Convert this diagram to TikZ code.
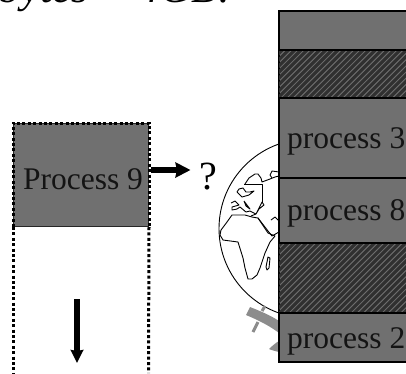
\documentclass[tikz,border=0pt]{standalone}
\usepackage{fontspec}
\setmainfont{Liberation Serif}
\usetikzlibrary{arrows.meta}
\definecolor{procgray}{HTML}{707070}
\definecolor{hatchdark}{HTML}{303030}
\definecolor{dishgray}{HTML}{8C8C8C}
\tikzset{
  px/.style={x=1pt,y=-1pt},
  seg/.style={draw=black,line width=1.3pt,fill=procgray},
  bigtext/.style={font=\fontsize{31.5}{36}\selectfont,inner sep=0pt,text=black!92},
  cont/.style={draw=black,line width=0.9pt,line join=round},
  fatarrow/.style={line width=5.2pt,-{Stealth[length=15pt,width=15pt,inset=1.5pt]}},
  dotline/.style={draw=black,line width=3pt,dash pattern=on 3pt off 2.4pt},
  dish/.style={fill=dishgray,draw=none}
}
\begin{document}
\begin{tikzpicture}[px]
\useasboundingbox (0,0) rectangle (406,373);
\clip (0,0) rectangle (406,373);
% title, cut by the top edge
\node[anchor=base east,inner sep=0pt,font=\fontsize{43}{48}\selectfont\itshape] (title) at (232,2.5) {bytes > 4GB!};
% globe
\draw[line width=0.9pt] (308.5,228.5) circle (89.5);
% Europe
\draw[cont] (245,184) -- (249,178) -- (255,174) -- (258,174) -- (261,178) -- (262,182) -- (270,179) -- (275,177) -- (279,176);
\draw[cont] (279,172) -- (272,171) -- (270,175) -- (272,178);
\draw[cont] (244,184) -- (262,184) -- (262,203);
\draw[cont] (237,192) -- (239,189) -- (243,188) -- (246,192) -- (250,192) -- (254,191) -- (249,195) -- (242,197) -- (237,192);
\draw[cont] (231,203) -- (235,201) -- (239,205) -- (232,207) -- (232,210) -- (237,209) -- (240,207) -- (246,212) -- (250,211) -- (256,214) -- (262,202) -- (264,205) -- (259,209) -- (256,214) -- (251,216);
\draw[cont] (244,201) -- (247,205) -- (250,209) -- (246,206) -- (244,201);
% Africa and Arabia
\draw[cont] (220,235) -- (223,240) -- (238,242) -- (243,258) -- (245,268) -- (248,279) -- (252,279) -- (257,275) -- (260,268) -- (265,253) -- (270,242) -- (275,236) -- (268,233) -- (258,218) -- (252,217) -- (245,215) -- (232,215) -- (227,222) -- (221,230) -- (220,235);
\draw[cont] (258,218) -- (268,231) -- (272,236) -- (279,232);
\draw[cont] (271,220) -- (275,217) -- (279,221);
\draw[cont] (268,257) -- (270,258) -- (269,268) -- (267,270) -- (266,267) -- cycle;
% satellite dish
\path[dish] (250,307) -- (246,315) .. controls (258,320) and (270,326) .. (279,333) -- (279,321) .. controls (270,315) and (260,311) .. (250,307) -- cycle;
\draw[dishgray,line width=3pt] (262,311) -- (265,306);
\draw[dishgray,line width=3pt] (258,322) -- (253,332);
\path[dish] (269,349) .. controls (273,345) and (277,342) .. (279,341) -- (279,352) .. controls (275,351) and (271,350) .. (269,349) -- cycle;
% memory column
\path[seg] (279,11) rectangle (408,50);
\path[seg] (279,50) rectangle (408,98);
\path[seg] (279,98) rectangle (408,178);
\path[seg] (279,178) rectangle (408,243);
\path[seg] (279,243) rectangle (408,313);
\path[seg] (279,313) rectangle (408,362);
\begin{scope}
\clip (279,50) rectangle (408,98) (279,243) rectangle (408,313);
\foreach \k in {0,...,68}{
  \draw[hatchdark,line width=3.2pt] ({\k*6.2},320) -- ++(330,-330);
}
\end{scope}
\draw[black,line width=1.6pt] (279,50) -- (406,50);
\draw[black,line width=1.6pt] (279,98) -- (406,98);
\draw[black,line width=1.3pt] (279,178) -- (406,178);
\draw[black,line width=1.6pt] (279,243) -- (406,243);
\draw[black,line width=1.6pt] (279,313) -- (406,313);
\node[bigtext,anchor=base west] (p3) at (287,148) {process 3};
\node[bigtext,anchor=base west] (p8) at (287,220) {process 8};
\node[bigtext,anchor=base west] (p2) at (287,348) {process 2};
% process 9
\node[draw=black!85,line width=1pt,fill=procgray,minimum width=135pt,minimum height=103pt,inner sep=0pt,anchor=north west] (p9box) at (13,123) {};
\node[bigtext,anchor=base] (p9) at (83,189) {Process 9};
\draw[dotline] (p9box.south west) -- (p9box.north west) -- (p9box.north east) -- (p9box.south east);
\coordinate (dotl) at (13,373);
\coordinate (dotr) at (148.5,373);
\draw[dotline] (p9box.south west) -- (dotl);
\draw[dotline] (p9box.south east) -- (dotr);
% question mark and arrows
\node[anchor=base,inner sep=0pt,font=\fontsize{40}{44}\selectfont] (q) at (208,189) {?};
\coordinate (rs) at (151,170);
\coordinate (re) at (190.5,170);
\draw[fatarrow] (rs) -- (re);
\coordinate (ds) at (77,299);
\coordinate (de) at (77,363);
\draw[fatarrow,line width=6pt,-{Stealth[length=13pt,width=12.5pt,inset=1pt]}] (ds) -- (de);
\end{tikzpicture}
\end{document}
